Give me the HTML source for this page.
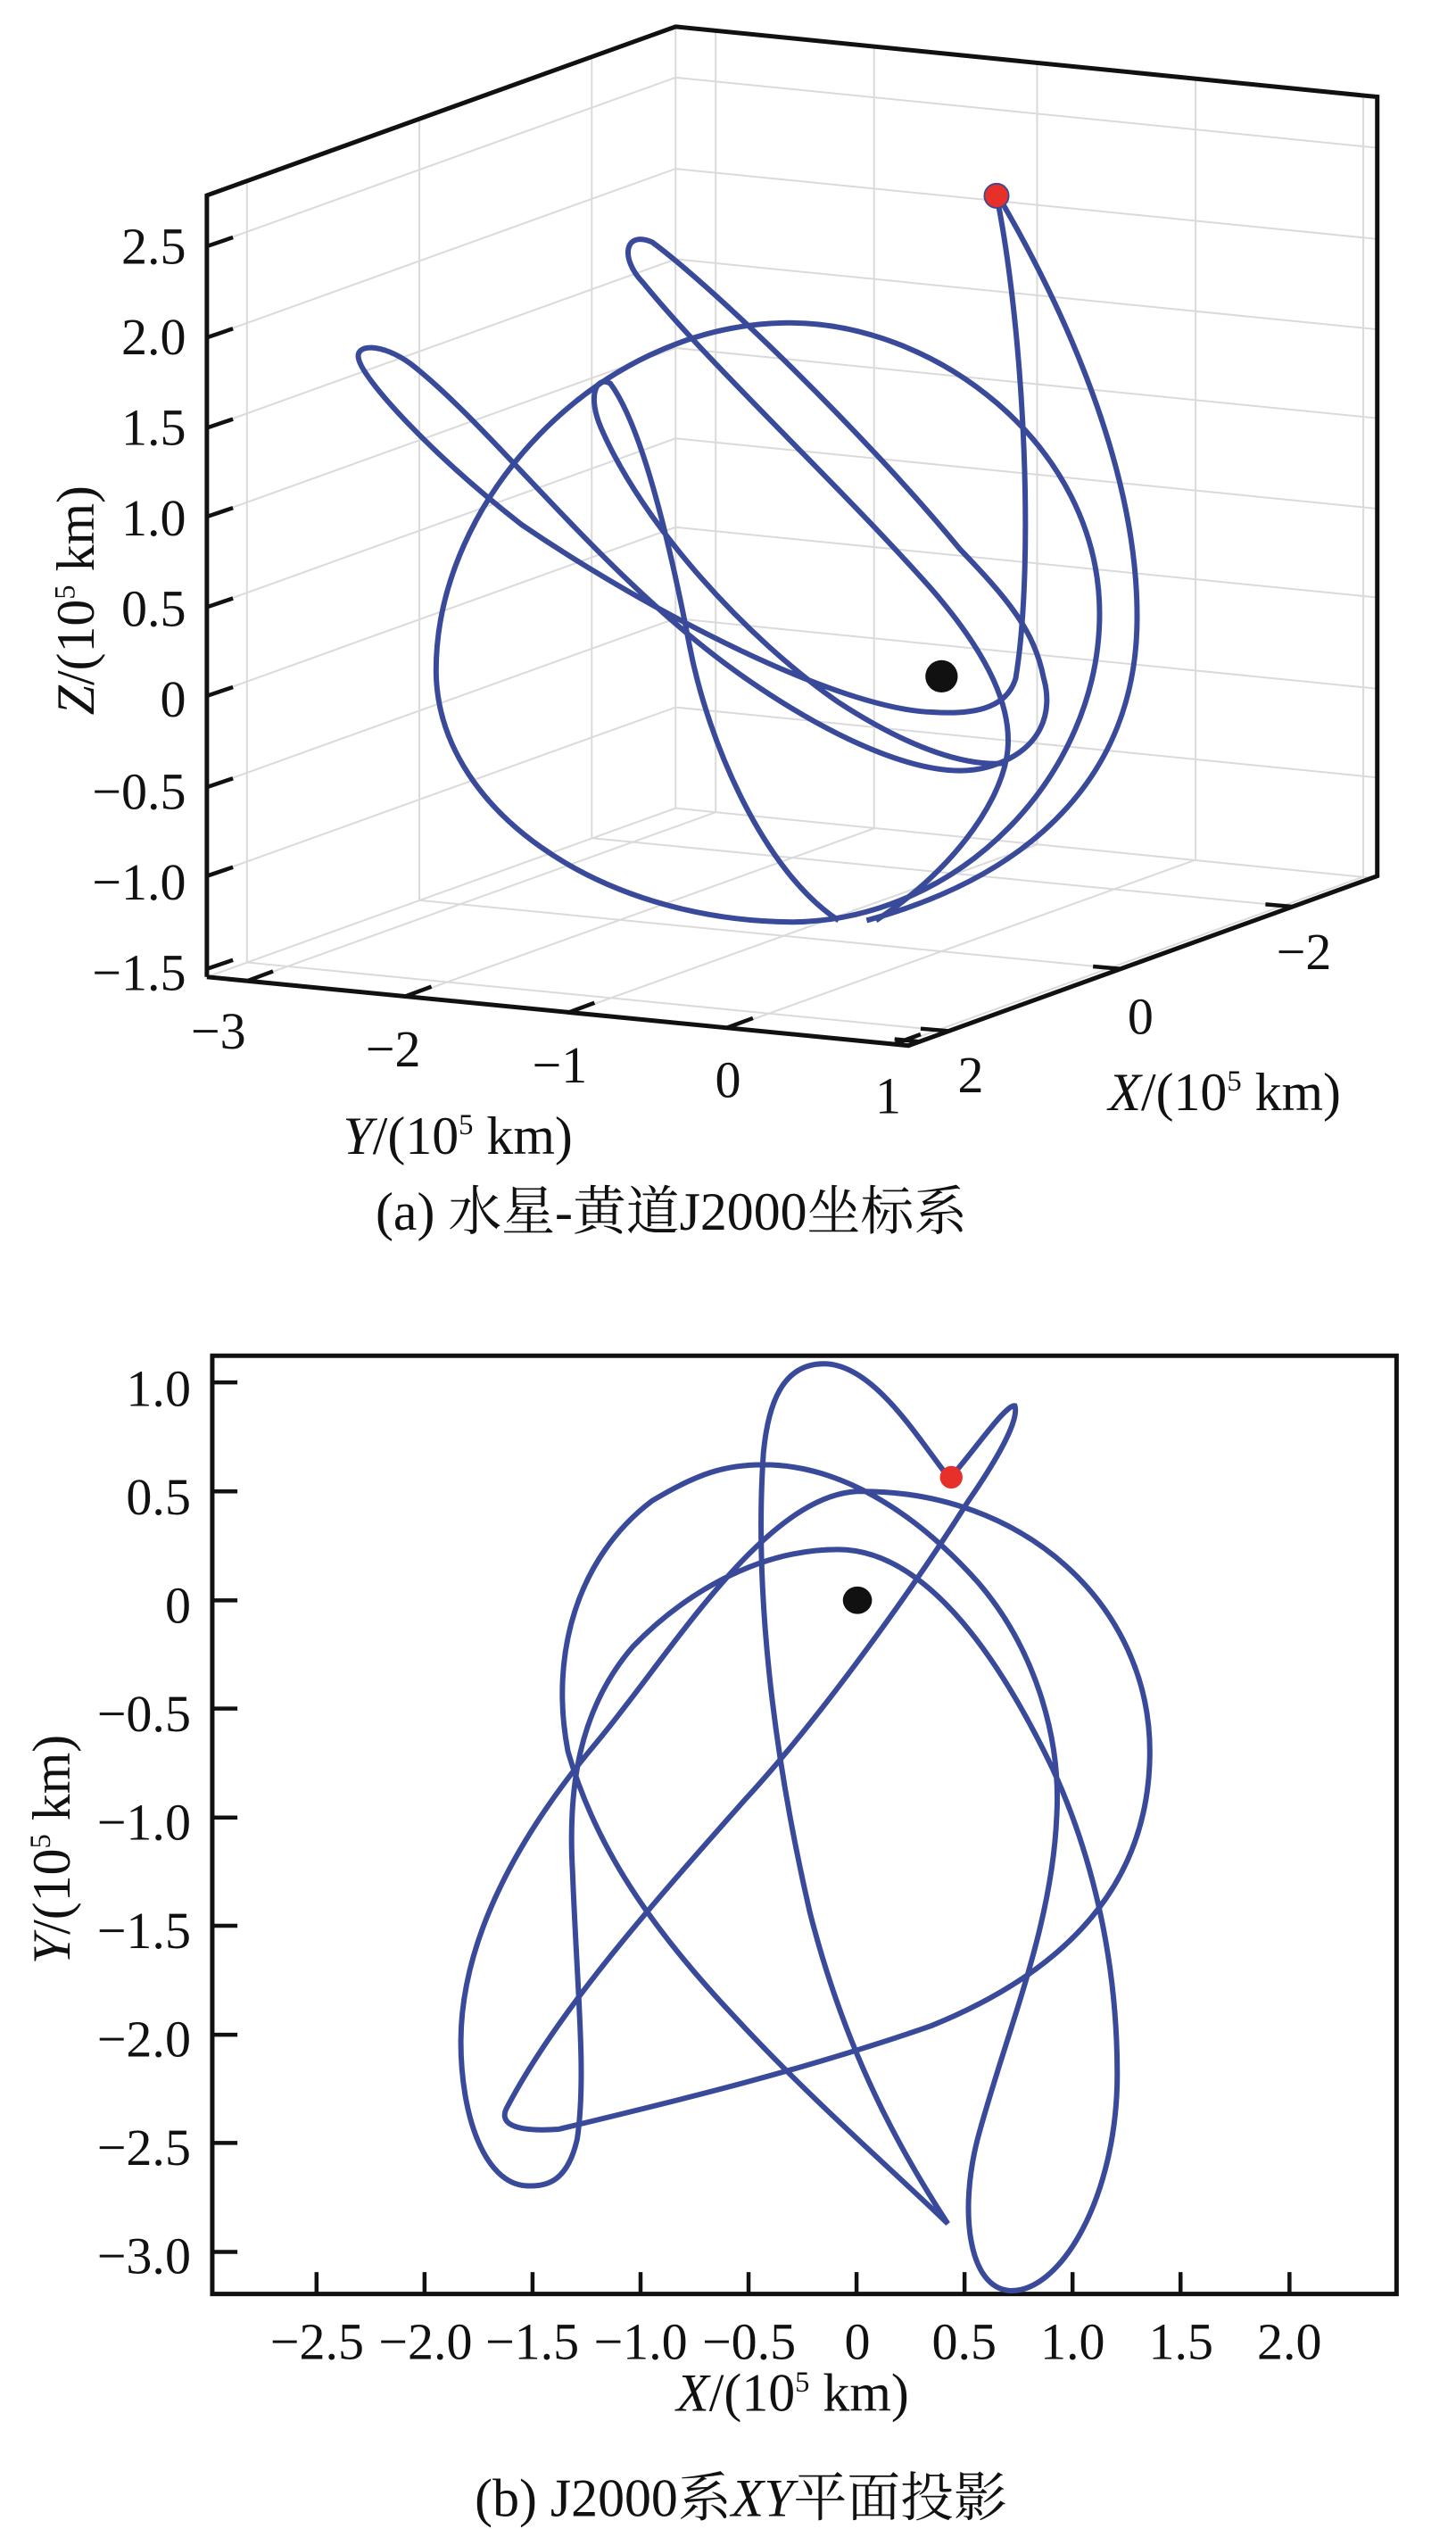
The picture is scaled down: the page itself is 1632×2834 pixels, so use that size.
<!DOCTYPE html>
<html><head><meta charset="utf-8"><style>html,body{margin:0;padding:0;background:#fff}svg{display:block}</style></head>
<body>
<svg width="1632" height="2834" viewBox="0 0 900 1563" preserveAspectRatio="none" xmlns="http://www.w3.org/2000/svg" font-family="'Liberation Serif','Noto Serif CJK SC',serif" font-size="32" fill="#111">
<rect width="900" height="1563" fill="#fff"/>
<!-- Panel A -->
<g transform="scale(0.576,0.499)" fill="none">
 <g stroke="#dadada" stroke-width="2">
  <path vector-effect="non-scaling-stroke" d="M222,305L725,96L1478,183 M222,418L725,209L1478,296 M222,530L725,321L1478,408 M222,640L725,431L1478,518 M222,752L725,543L1478,630 M222,862L725,653L1478,740 M222,975L725,766L1478,853 M222,1085L725,876L1478,963 M725,33L725,1001
  M265,224L265,1192L1018,1277 M450,147L450,1115L1203,1200 M635,70L635,1038L1388,1123
  M768,38L768,1006L265,1215 M938,58L938,1026L435,1235 M1113,78L1113,1046L610,1255 M1283,97L1283,1065L780,1274 M1463,118L1463,1086L960,1295 M222,1210L725,1001L1478,1088"/>
 </g>
 <path vector-effect="non-scaling-stroke" stroke="#111" stroke-width="5" d="M222,1210L222,242L725,33L1478,120L1478,1085L975,1295L222,1210"/>
 <path vector-effect="non-scaling-stroke" stroke="#111" stroke-width="4.5" d="M222,305l28,-11M222,418l28,-11M222,530l28,-11M222,640l28,-11M222,752l28,-11M222,862l28,-11M222,975l28,-11M222,1085l28,-11M222,1200l28,-11
 M265,1215l28,-12M435,1234l28,-12M610,1254l28,-12M780,1273l28,-12M960,1293l28,-12
 M1018,1277l-30,-3M1203,1200l-30,-3M1388,1123l-30,-3M985,1290l-25,-3"/>
 <g stroke="#3a4a9a" stroke-width="6">
  <path vector-effect="non-scaling-stroke" d="M840,400C1000,395 1180,550 1180,760C1180,960 1030,1140 850,1142C640,1140 468,1000 468,830C468,620 640,405 840,400Z"/>
  <path vector-effect="non-scaling-stroke" d="M1070,245C1100,420 1110,700 1090,840C1080,880 1040,885 1000,882C900,878 700,760 560,650C460,560 390,470 385,445C380,425 410,425 440,450C530,530 650,720 800,840C900,920 1000,970 1060,950C1120,930 1130,880 1120,840C1110,780 1080,740 1030,680C930,540 770,360 700,300C670,285 665,320 690,350C760,450 900,600 1000,730C1060,810 1090,880 1080,940C1070,1000 1020,1080 940,1140"/>
  <path vector-effect="non-scaling-stroke" d="M900,1140C820,1080 760,920 740,800C720,680 690,530 655,475C640,465 630,490 645,530C690,650 800,790 900,870C980,930 1040,950 1080,945"/>
  <path vector-effect="non-scaling-stroke" d="M1075,250C1150,400 1225,600 1220,780C1215,950 1120,1080 930,1140"/>
 </g>
</g>
<circle cx="616" cy="121" r="7.5" fill="#e8302a" stroke="#3a4a9a" stroke-width="1"/>
<ellipse cx="582" cy="418" rx="10" ry="10" fill="#111"/>
<g text-anchor="end">
 <text x="115" y="163">2.5</text><text x="115" y="219">2.0</text><text x="115" y="275">1.5</text><text x="115" y="331">1.0</text><text x="115" y="387">0.5</text><text x="115" y="443">0</text><text x="115" y="500">−0.5</text><text x="115" y="556">−1.0</text><text x="115" y="612">−1.5</text>
</g>
<text transform="translate(58,371) rotate(-90)" text-anchor="middle" font-size="33"><tspan font-style="italic">Z</tspan>/(10<tspan font-size="18" dy="-12">5</tspan><tspan dy="12"> km)</tspan></text>
<g text-anchor="middle">
 <text x="135" y="648">−3</text><text x="243" y="659">−2</text><text x="346" y="669">−1</text><text x="450" y="678">0</text><text x="549" y="688">1</text>
 <text x="600" y="675">2</text><text x="705" y="639">0</text><text x="806" y="599">−2</text>
 <text x="283" y="713" font-size="33"><tspan font-style="italic">Y</tspan>/(10<tspan font-size="18" dy="-12">5</tspan><tspan dy="12"> km)</tspan></text>
 <text x="757" y="686" font-size="33"><tspan font-style="italic">X</tspan>/(10<tspan font-size="18" dy="-12">5</tspan><tspan dy="12"> km)</tspan></text>
 <text x="415" y="760" font-size="33">(a) 水星-黄道J2000坐标系</text>
</g>
<!-- Panel B -->
<g transform="translate(0,783) scale(0.5755,0.499)" fill="none">
 <path vector-effect="non-scaling-stroke" stroke="#111" stroke-width="5" d="M228,110H1500V1272H228Z"/>
 <path vector-effect="non-scaling-stroke" stroke="#111" stroke-width="4.5" d="M228,143h27M228,278h27M228,413h27M228,547h27M228,682h27M228,816h27M228,951h27M228,1085h27M228,1220h27
 M340,1272v-27M456,1272v-27M572,1272v-27M688,1272v-27M804,1272v-27M920,1272v-27M1036,1272v-27M1152,1272v-27M1268,1272v-27M1385,1272v-27"/>
 <path vector-effect="non-scaling-stroke" stroke="#3a4a9a" stroke-width="6" d="M1020,262C990,220 940,120 885,120C840,120 825,170 820,230C810,400 830,600 870,800C910,980 970,1100 1018,1185C960,1120 870,1030 790,930C700,820 640,720 610,600C590,480 620,360 700,290C750,255 780,245 820,245C900,245 980,300 1050,390C1110,470 1140,580 1135,680C1130,820 1080,950 1050,1080C1030,1170 1040,1265 1085,1268C1140,1270 1200,1150 1200,1000C1200,850 1170,720 1130,620C1080,500 1000,350 900,350C810,350 730,410 680,470C620,550 610,650 615,750C620,900 630,1000 620,1080C610,1130 590,1140 565,1138C520,1135 495,1050 495,960C495,830 560,700 640,590C720,480 820,285 920,278C1100,275 1235,420 1235,600C1235,760 1150,870 1000,940C850,1000 700,1040 600,1068C550,1072 535,1060 545,1040C600,920 700,790 800,660C880,560 980,400 1040,290C1070,240 1095,190 1090,172C1080,170 1045,230 1020,262Z"/>
</g>
<circle cx="588" cy="913" r="7" fill="#e8302a"/>
<ellipse cx="530" cy="989" rx="9" ry="8.5" fill="#111"/>
<g text-anchor="end">
 <text x="118" y="869">1.0</text><text x="118" y="936">0.5</text><text x="118" y="1003">0</text><text x="118" y="1070">−0.5</text><text x="118" y="1137">−1.0</text><text x="118" y="1204">−1.5</text><text x="118" y="1271">−2.0</text><text x="118" y="1338">−2.5</text><text x="118" y="1405">−3.0</text>
</g>
<text transform="translate(43,1143) rotate(-90)" text-anchor="middle" font-size="33"><tspan font-style="italic">Y</tspan>/(10<tspan font-size="18" dy="-12">5</tspan><tspan dy="12"> km)</tspan></text>
<g text-anchor="middle">
 <text x="196" y="1458">−2.5</text><text x="263" y="1458">−2.0</text><text x="329" y="1458">−1.5</text><text x="396" y="1458">−1.0</text><text x="463" y="1458">−0.5</text><text x="530" y="1458">0</text><text x="596" y="1458">0.5</text><text x="663" y="1458">1.0</text><text x="730" y="1458">1.5</text><text x="797" y="1458">2.0</text>
 <text x="490" y="1490" font-size="33"><tspan font-style="italic">X</tspan>/(10<tspan font-size="18" dy="-12">5</tspan><tspan dy="12"> km)</tspan></text>
 <text x="458" y="1555" font-size="33">(b) J2000系<tspan font-style="italic">XY</tspan>平面投影</text>
</g>
</svg>
</body></html>
